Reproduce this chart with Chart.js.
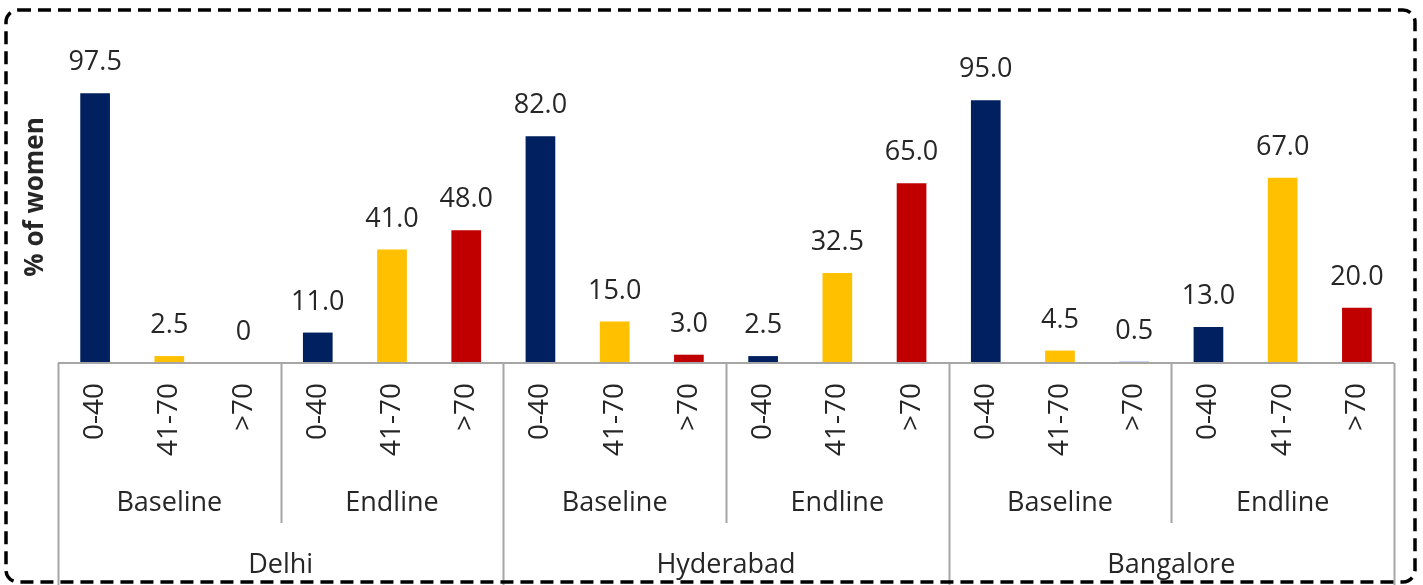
<!DOCTYPE html>
<html>
<head>
<meta charset="utf-8">
<script src="https://cdn.jsdelivr.net/npm/chart.js@4.4.0/dist/chart.umd.min.js"></script>
<style>
  html, body { margin: 0; padding: 0; background: #fff; }
  #wrap { position: relative; width: 1423px; height: 585px; }
</style>
</head>
<body>
<div id="wrap"><canvas id="chartBar"></canvas></div>
<script>
// bars, left to right
const ranges = ["0-40", "41-70", ">70", "0-40", "41-70", ">70",
                "0-40", "41-70", ">70", "0-40", "41-70", ">70",
                "0-40", "41-70", ">70", "0-40", "41-70", ">70"];
const phases = ["Baseline", "Endline", "Baseline", "Endline", "Baseline", "Endline"];
const cities = ["Delhi", "Hyderabad", "Bangalore"];
const values = [97.5, 2.5, 0, 11.0, 41.0, 48.0,
                82.0, 15.0, 3.0, 2.5, 32.5, 65.0,
                95.0, 4.5, 0.5, 13.0, 67.0, 20.0];

const rangeColors = { "0-40": "#002060", "41-70": "#FFC000", ">70": "#C00000" };
var barColors = ranges.map(r => rangeColors[r]);
barColors[14] = "#6F90D0"; // the 0.5 bar is drawn light blue in the original

const FONT = "'Open Sans', sans-serif";
const TEXT = "#262626";
const LINE = "#A6A6A6";

const groupAxis = {
    id: "groupAxis",
    afterDraw(chart) {
        const { ctx, chartArea, scales } = chart;
        const x = scales.x, y = scales.y;
        const step = x.getPixelForValue(1) - x.getPixelForValue(0);
        const edge = i => x.getPixelForValue(i) - step / 2;
        const y0 = y.getPixelForValue(0);
        const H = chart.height;

        ctx.save();
        ctx.strokeStyle = LINE;
        ctx.lineWidth = 2;
        ctx.beginPath();
        ctx.moveTo(chartArea.left, y0);
        ctx.lineTo(chartArea.right, y0);
        for (let i = 0; i <= ranges.length; i += 3) {
            const px = Math.round(edge(i)) + 0.5;
            ctx.moveTo(px, y0);
            ctx.lineTo(px, i % 6 === 0 ? H : y0 + 160);
        }
        ctx.stroke();

        // group labels
        ctx.fillStyle = TEXT;
        ctx.font = "27px " + FONT;
        ctx.textAlign = "center";
        ctx.textBaseline = "middle";
        phases.forEach((p, i) => {
            const cx = (edge(i * 3) + edge(i * 3 + 3)) / 2;
            ctx.fillText(p, cx, y0 + 140);
        });
        cities.forEach((c, i) => {
            const cx = (edge(i * 6) + edge(i * 6 + 6)) / 2;
            ctx.fillText(c, cx, y0 + 202);
        });

        // value labels
        ctx.textBaseline = "alphabetic";
        values.forEach((v, i) => {
            const txt = v === 0 ? "0" : v.toFixed(1);
            ctx.fillText(txt, x.getPixelForValue(i), y.getPixelForValue(v) - 23);
        });

        // dashed frame
        ctx.strokeStyle = "#000";
        ctx.lineWidth = 3.5;
        ctx.setLineDash([13, 7]);
        ctx.beginPath();
        ctx.roundRect(6, 10, 1409, 572, 12);
        ctx.stroke();
        ctx.restore();
    },
};

const ctx = document.getElementById("chartBar");
new Chart(ctx, {
    type: "bar",
    data: {
        labels: ranges,
        datasets: [
            {
                data: values,
                backgroundColor: barColors,
                barPercentage: 0.4,
                categoryPercentage: 1.0,
            },
        ],
    },
    options: {
        responsive: true,
        maintainAspectRatio: false,
        animation: false,
        layout: {
            padding: { left: 0, right: 29, top: 31, bottom: 0 },
        },
        plugins: {
            legend: { display: false },
            tooltip: { enabled: false },
        },
        scales: {
            x: {
                grid: { display: false, drawTicks: false },
                border: { display: false },
                ticks: {
                    color: TEXT,
                    font: { size: 28, family: FONT },
                    minRotation: 90,
                    maxRotation: 90,
                    padding: 20,
                    autoSkip: false,
                },
                afterFit: s => { s.height = 222; },
            },
            y: {
                min: 0,
                max: 120,
                grid: { display: false, drawTicks: false },
                border: { display: false },
                ticks: { display: false },
                title: {
                    display: true,
                    text: "% of women",
                    color: TEXT,
                    font: { size: 26, family: FONT, weight: "bold" },
                    padding: { top: 20, bottom: 0 },
                },
                afterFit: s => { s.width = 58; },
            },
        },
    },
    plugins: [groupAxis],
});
</script>
</body>
</html>
